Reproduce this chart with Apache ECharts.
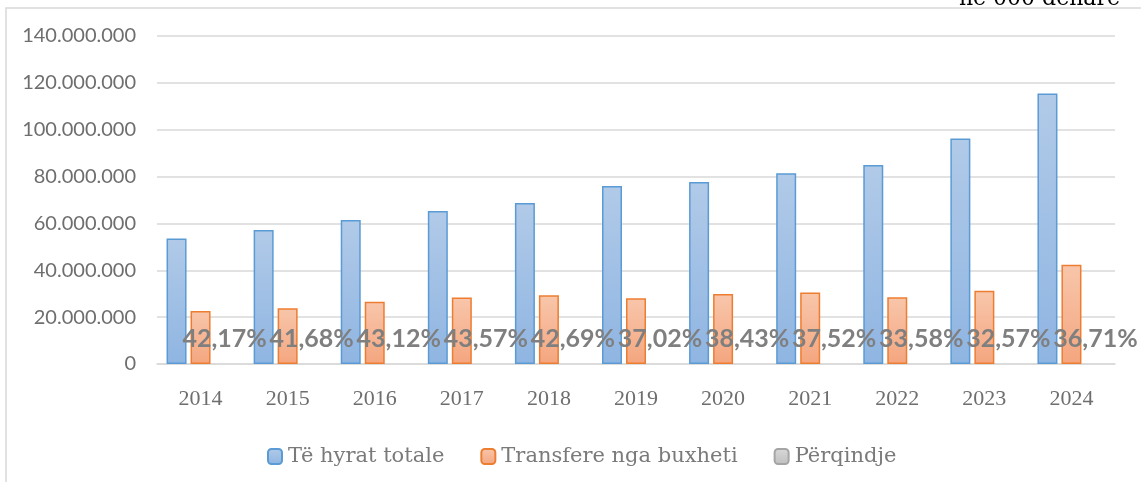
<!DOCTYPE html>
<html>
<head>
<meta charset="utf-8">
<script src="https://cdn.jsdelivr.net/npm/echarts@6/dist/echarts.min.js"></script>
<style>html,body{margin:0;padding:0;background:#fff;}#c{width:1141px;height:482px;}</style>
</head>
<body>
<div id="c"></div>
<script>
const years = ['2014','2015','2016','2017','2018','2019','2020','2021','2022','2023','2024'];
const totalRevenue = [53600000, 57200000, 61500000, 65300000, 68700000, 76000000, 77700000, 81400000, 84900000, 96200000, 115500000];
const budgetTransfers = [22600000, 23800000, 26600000, 28400000, 29300000, 28100000, 29900000, 30500000, 28500000, 31300000, 42400000];
const percentages = [42.17, 41.68, 43.12, 43.57, 42.69, 37.02, 38.43, 37.52, 33.58, 32.57, 36.71];
const seriesNames = ['Të hyrat totale', 'Transfere nga buxheti', 'Përqindje'];
const unitNote = 'në 000 denarë';

function fmtThousands(v) {
  return String(v).replace(/\B(?=(\d{3})+(?!\d))/g, '.');
}
function grad(top, bottom) {
  return new echarts.graphic.LinearGradient(0, 0, 0, 1, [
    {offset: 0, color: top}, {offset: 1, color: bottom}
  ]);
}

const chart = echarts.init(document.getElementById('c'), null, {renderer: 'canvas'});
chart.setOption({
  animation: false,
  backgroundColor: '#fff',
  grid: {left: 157, right: 26, top: 36, bottom: 118, containLabel: false},
  graphic: [
    {type: 'rect', shape: {x: 6, y: 8, width: 1300, height: 700}, style: {fill: null, stroke: '#d9d9d9', lineWidth: 1.5}, silent: true},
    {type: 'text', x: 1120, y: 10, style: {text: unitNote, font: '22px "DejaVu Serif"', fill: '#000', align: 'right', verticalAlign: 'bottom'}, silent: true}
  ],
  legend: {
    top: 441,
    left: 262,
    itemWidth: 14,
    itemHeight: 15,
    itemGap: 36,
    textStyle: {fontFamily: '"DejaVu Serif"', fontSize: 21, color: '#7a7a7a', padding: [0, 0, 0, 1]},
    data: seriesNames
  },
  xAxis: {
    type: 'category',
    data: years,
    axisLine: {lineStyle: {color: '#d9d9d9', width: 1.5}},
    axisTick: {show: false},
    axisLabel: {fontFamily: '"Liberation Serif"', fontSize: 22, color: '#6e6e6e', margin: 24}
  },
  yAxis: {
    type: 'value',
    min: 0,
    max: 140000000,
    interval: 20000000,
    axisLine: {show: false},
    axisTick: {show: false},
    splitLine: {lineStyle: {color: '#d9d9d9', width: 1.5}},
    axisLabel: {fontFamily: 'Lato', fontSize: 20, color: '#6e6e6e', margin: 21, formatter: v => fmtThousands(v)}
  },
  series: [
    {
      name: seriesNames[0], type: 'bar', data: totalRevenue, barWidth: 20, barGap: '20%',
      itemStyle: {color: grad('#b1cae8', '#8fb5e2'), borderColor: '#5b9bd5', borderWidth: 1.5}
    },
    {
      name: seriesNames[1], type: 'bar', data: budgetTransfers, barWidth: 20, barGap: '20%',
      itemStyle: {color: grad('#f8c6ab', '#f4a67f'), borderColor: '#ed7d31', borderWidth: 1.5}
    },
    {
      name: seriesNames[2], type: 'bar', barWidth: 20, barGap: '20%',
      data: percentages.map(v => ({value: v, itemStyle: {borderWidth: 0, opacity: 0}})),
      itemStyle: {color: grad('#d9d9d9', '#bfbfbf'), borderColor: '#a5a5a5', borderWidth: 1.5},
      label: {
        show: true, position: 'top', distance: 13, opacity: 1,
        fontFamily: 'Lato', fontWeight: 'bold', fontSize: 25, color: '#7f7f7f',
        formatter: p => p.value.toFixed(2).replace('.', ',') + '%'
      }
    }
  ]
});
</script>
</body>
</html>
